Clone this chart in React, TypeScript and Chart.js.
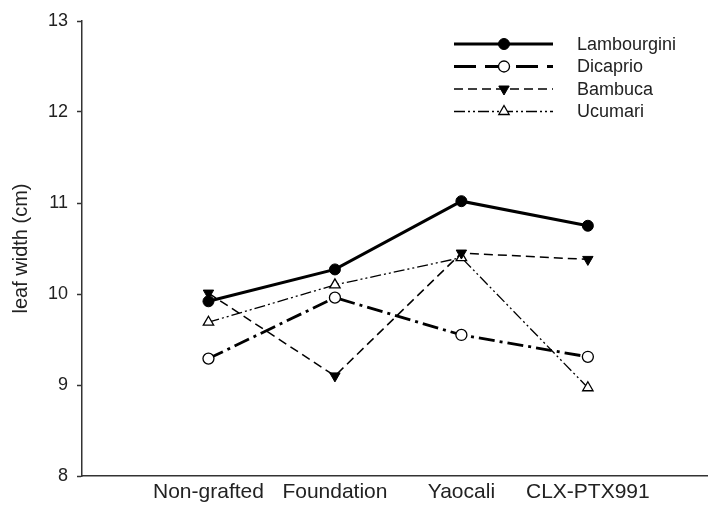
import React, { useEffect, useRef } from "react";
import { Chart, registerables } from "chart.js";
import { drawPoint } from "chart.js/helpers";

Chart.register(...registerables);

const categories = ["Non-grafted", "Foundation", "Yaocali", "CLX-PTX991"];
const seriesNames = ["Lambourgini", "Dicaprio", "Bambuca", "Ucumari"];
const lambourgini = [9.92, 10.27, 11.02, 10.75];
const dicaprio = [9.29, 9.96, 9.55, 9.31];
const bambuca = [10.01, 9.1, 10.45, 10.38];
const ucumari = [9.69, 10.1, 10.4, 8.97];
const yTicks = [8, 9, 10, 11, 12, 13];

const FONT = "'Liberation Sans', Arial, Helvetica, sans-serif";

const toPoints = (vals: number[]) => vals.map((v, i) => ({ x: i + 1, y: v }));

const legendPlugin = {
  id: "customLegend",
  afterDraw(chart: any) {
    const ctx = chart.ctx;
    const x0 = 454;
    const x1 = 553;
    const xm = 504;
    const textX = 577;
    const y0 = 44;
    const dy = 22.5;
    ctx.save();
    chart.data.datasets.forEach((ds: any, i: number) => {
      const y = y0 + i * dy;
      ctx.strokeStyle = ds.borderColor;
      ctx.lineWidth = ds.borderWidth;
      ctx.setLineDash(ds.legendDash || ds.borderDash || []);
      ctx.beginPath();
      ctx.moveTo(x0, y);
      ctx.lineTo(x1, y);
      ctx.stroke();
      ctx.setLineDash([]);
      ctx.fillStyle = ds.pointBackgroundColor;
      ctx.strokeStyle = ds.pointBorderColor;
      ctx.lineWidth = ds.pointBorderWidth;
      drawPoint(ctx, {
        pointStyle: ds.pointStyle,
        rotation: ds.pointRotation || 0,
        radius: ds.pointRadius,
        borderWidth: ds.pointBorderWidth,
      } as any, xm, y);
      ctx.fillStyle = "#222";
      ctx.font = `18px ${FONT}`;
      ctx.textAlign = "left";
      ctx.textBaseline = "middle";
      ctx.fillText(ds.label, textX, y + 1);
    });
    ctx.restore();
  },
};

export default function App() {
  const ref = useRef<HTMLCanvasElement | null>(null);
  useEffect(() => {
    if (!ref.current) return;
    const chart = new Chart(ref.current, {
      type: "line",
      data: {
        datasets: [
          {
            label: seriesNames[0],
            data: toPoints(lambourgini),
            borderColor: "#000",
            borderWidth: 3,
            pointStyle: "circle",
            pointRadius: 5.5,
            pointBackgroundColor: "#000",
            pointBorderColor: "#000",
            pointBorderWidth: 1,
          },
          {
            label: seriesNames[1],
            data: toPoints(dicaprio),
            borderColor: "#000",
            borderWidth: 2.8,
            borderDash: [16, 5, 3, 5],
            legendDash: [22, 9],
            pointStyle: "circle",
            pointRadius: 5.5,
            pointBackgroundColor: "#fff",
            pointBorderColor: "#000",
            pointBorderWidth: 1.3,
          },
          {
            label: seriesNames[2],
            data: toPoints(bambuca),
            borderColor: "#000",
            borderWidth: 1.5,
            borderDash: [9, 5],
            pointStyle: "triangle",
            pointRotation: 180,
            pointRadius: 6,
            pointBackgroundColor: "#000",
            pointBorderColor: "#000",
            pointBorderWidth: 1,
          },
          {
            label: seriesNames[3],
            data: toPoints(ucumari),
            borderColor: "#000",
            borderWidth: 1.3,
            borderDash: [11, 3, 2, 3, 2, 3],
            pointStyle: "triangle",
            pointRadius: 6,
            pointBackgroundColor: "#fff",
            pointBorderColor: "#000",
            pointBorderWidth: 1.3,
          },
        ] as any,
      },
      options: {
        responsive: false,
        animation: false,
        layout: { autoPadding: false, padding: { top: 21, right: 0, left: 0, bottom: 0 } },
        plugins: { legend: { display: false }, tooltip: { enabled: false } },
        scales: {
          x: {
            type: "linear",
            min: 0,
            max: 4.95,
            afterBuildTicks: (scale: any) => {
              scale.ticks = categories.map((_, i) => ({ value: i + 1 }));
            },
            afterFit: (scale: any) => {
              scale.height = 30;
              scale.paddingRight = 0;
              scale.paddingLeft = 0;
            },
            ticks: {
              callback: (v: any) => categories[Number(v) - 1] ?? "",
              font: { size: 21, family: FONT },
              color: "#222",
              padding: 4,
              maxRotation: 0,
              autoSkip: false,
            },
            grid: { display: true, drawOnChartArea: false, drawTicks: false },
            border: { display: true, color: "#333", width: 1.5 },
          },
          y: {
            min: 8,
            max: 13,
            afterBuildTicks: (scale: any) => {
              scale.ticks = yTicks.map((v) => ({ value: v }));
            },
            afterFit: (scale: any) => {
              scale.width = 82;
            },
            ticks: {
              font: { size: 18, family: FONT },
              color: "#222",
              padding: 9,
            },
            grid: { drawOnChartArea: false, tickLength: 5, tickColor: "#333", tickWidth: 1.5 },
            border: { display: true, color: "#333", width: 1.5 },
            title: {
              display: true,
              text: "leaf width (cm)",
              font: { size: 20, family: FONT },
              color: "#222",
              padding: { top: 9, bottom: 0 },
            },
          },
        },
      } as any,
      plugins: [legendPlugin],
    });
    return () => chart.destroy();
  }, []);
  return (
    <div style={{ position: "fixed", left: 0, top: 0, width: 708, height: 506, background: "#fff" }}>
      <canvas ref={ref} width={708} height={506} style={{ display: "block" }} />
    </div>
  );
}
